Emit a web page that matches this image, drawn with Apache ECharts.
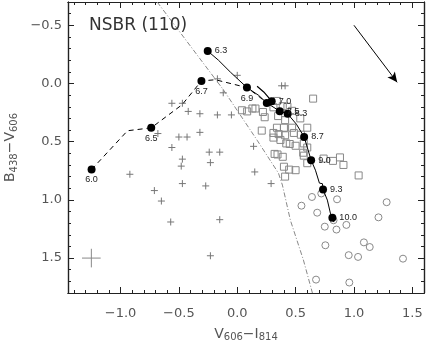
<!DOCTYPE html>
<html>
<head>
<meta charset="utf-8">
<script src="https://cdn.jsdelivr.net/npm/echarts@6/dist/echarts.min.js"></script>
<style>
  html, body { margin: 0; background: #fff; }
  #chart { width: 426px; height: 343px; }
</style>
</head>
<body>
<div id="chart"></div>
<script>
// tick positions
const xMajor = [-1.0, -0.5, 0, 0.5, 1.0, 1.5]
const xMinor = [-1.4, -1.3, -1.2, -1.1, -0.9, -0.8, -0.7, -0.6, -0.4, -0.3, -0.2, -0.1,
  0.1, 0.2, 0.3, 0.4, 0.6, 0.7, 0.8, 0.9, 1.1, 1.2, 1.3, 1.4]
const yMajor = [-0.5, 0, 0.5, 1.0, 1.5]
const yMinor = [-0.6, -0.4, -0.3, -0.2, -0.1, 0.1, 0.2, 0.3, 0.4, 0.6, 0.7, 0.8, 0.9,
  1.1, 1.2, 1.3, 1.4, 1.6, 1.7]

// crosses (+)
const crossX = [0.00, -0.17, -0.12, -0.56, -0.47, -0.42, -0.32, -0.17, -0.05, -0.68, -0.50, -0.43,
  -0.32, -0.56, -0.24, -0.15, 0.14, -0.47, -0.23, -0.48, -0.92, -0.47, -0.27, 0.15, 0.29, -0.71,
  -0.65, -0.57, -0.15, -0.23, 0.38, 0.41]
const crossY = [-0.07, -0.04, 0.08, 0.17, 0.17, 0.24, 0.26, 0.27, 0.27, 0.43, 0.46, 0.46,
  0.42, 0.55, 0.59, 0.59, 0.54, 0.65, 0.68, 0.71, 0.78, 0.86, 0.88, 0.76, 0.86, 0.92,
  1.01, 1.19, 1.17, 1.48, 0.02, 0.02]

// open squares
const squareX = [0.65, 0.34, 0.04, 0.085, 0.13, 0.156, 0.22, 0.235, 0.31, 0.39, 0.43, 0.47, 0.54,
  0.35, 0.41, 0.34, 0.40, 0.47, 0.60, 0.21, 0.31, 0.355, 0.41, 0.485, 0.545, 0.31, 0.37, 0.42,
  0.45, 0.50, 0.57, 0.60, 0.32, 0.345, 0.39, 0.565, 0.57, 0.60, 0.40, 0.445, 0.50, 0.41, 0.74,
  0.82, 0.88, 0.91, 1.04]
const squareY = [0.13, 0.15, 0.23, 0.24, 0.215, 0.215, 0.245, 0.29, 0.205, 0.195, 0.20, 0.235, 0.30,
  0.28, 0.315, 0.38, 0.38, 0.38, 0.38, 0.405, 0.425, 0.435, 0.445, 0.425, 0.44, 0.465, 0.485, 0.515,
  0.52, 0.535, 0.515, 0.55, 0.605, 0.61, 0.63, 0.595, 0.62, 0.685, 0.715, 0.74, 0.745, 0.80, 0.645,
  0.665, 0.635, 0.70, 0.79]

// open circles
const circleX = [0.55, 0.64, 0.72, 0.855, 0.685, 0.825, 0.75, 0.85, 0.935, 1.21, 1.28, 0.755,
  1.085, 1.135, 0.955, 1.035, 1.42, 0.675, 0.96]
const circleY = [1.05, 0.975, 0.945, 0.995, 1.11, 1.175, 1.23, 1.255, 1.215, 1.15, 1.02, 1.39,
  1.365, 1.405, 1.475, 1.49, 1.505, 1.685, 1.71]

// filled age points
const ageX = [-1.248, -0.737, -0.307, -0.253, 0.083, 0.253, 0.295, 0.364, 0.432, 0.573, 0.633, 0.735, 0.815]
const ageY = [0.739, 0.381, -0.022, -0.279, 0.035, 0.167, 0.152, 0.238, 0.261, 0.459, 0.659, 0.910, 1.154]
const ageLabels = ['6.0', '6.5', '6.7', '6.3', '6.9', '', '7.0', '7.5', '8.3', '8.7', '9.0', '9.3', '10.0']

// solid track
const solidX = [-0.253, -0.161, -0.058, 0.083, 0.182, 0.253, 0.364, 0.432, 0.507, 0.573, 0.633,
  0.670, 0.704, 0.730, 0.735, 0.772, 0.798, 0.815, 0.828]
const solidY = [-0.279, -0.200, -0.097, 0.035, 0.101, 0.167, 0.238, 0.261, 0.350, 0.459, 0.659,
  0.745, 0.856, 0.861, 0.910, 1.002, 1.114, 1.154, 1.191]
const loopX = [0.170, 0.227, 0.295]
const loopY = [0.024, 0.073, 0.152]

// dashed track
const dashX = [-1.248, -0.940, -0.737, -0.472, -0.307, -0.187, 0.083, 0.182, 0.253]
const dashY = [0.739, 0.406, 0.381, 0.182, -0.022, -0.032, 0.035, 0.109, 0.167]

// dash-dot line
const dotDashX = [-0.686, -0.116, 0.170, 0.353, 0.387, 0.455, 0.567, 0.644]
const dotDashY = [-0.70, 0.058, 0.487, 0.770, 0.873, 1.174, 1.517, 1.80]

// error bar and reddening arrow
const errCenter = [-1.25, 1.50]
const errSize = [0.08, 0.08]
const arrowFrom = [1.00, -0.50]
const arrowTo = [1.37, -0.01]

const zip = (xs, ys) => xs.map((x, i) => [x, ys[i]])
const minus = v => (v < 0 ? '\u2212' + Math.abs(v).toFixed(1) : v.toFixed(1))

const axisColor = '#222'
const font = 'DejaVu Sans'

function xAxis(pos, ticks, len, withLabels) {
  return {
    type: 'value', position: pos, min: -1.45, max: 1.6,
    axisLine: { show: true, onZero: false, lineStyle: { color: axisColor, width: 1.2 } },
    axisTick: { show: true, inside: true, length: len, customValues: ticks, lineStyle: { color: axisColor } },
    axisLabel: withLabels
      ? { customValues: ticks, formatter: minus, margin: 14, fontSize: 13, color: '#555', fontFamily: font }
      : { show: false },
    splitLine: { show: false }
  }
}
function yAxis(pos, ticks, len, withLabels) {
  return {
    type: 'value', position: pos, min: -0.7, max: 1.8, inverse: true,
    axisLine: { show: true, onZero: false, lineStyle: { color: axisColor, width: 1.2 } },
    axisTick: { show: true, inside: true, length: len, customValues: ticks, lineStyle: { color: axisColor } },
    axisLabel: withLabels
      ? { customValues: ticks, formatter: minus, margin: 6, fontSize: 13, color: '#555', fontFamily: font }
      : { show: false },
    splitLine: { show: false }
  }
}

const sub = { fontSize: 10, lineHeight: 10, padding: [8, 0, 0, 0], verticalAlign: 'bottom', color: '#555', fontFamily: font }
const main = { fontSize: 14, lineHeight: 16, verticalAlign: 'top', color: '#555', fontFamily: font }

const xAxes = [
  xAxis('bottom', xMajor, 6, true),
  xAxis('bottom', xMinor, 3, false),
  xAxis('top', xMajor, 6, false),
  xAxis('top', xMinor, 3, false)
]
xAxes[0].name = '{m|V}{s|606}{m|\u2212I}{s|814}'
xAxes[0].nameLocation = 'middle'
xAxes[0].nameGap = 28
xAxes[0].nameTextStyle = { rich: { m: main, s: sub } }

const yAxes = [
  yAxis('left', yMajor, 6, true),
  yAxis('left', yMinor, 3, false),
  yAxis('right', yMajor, 6, false),
  yAxis('right', yMinor, 3, false)
]
yAxes[0].name = '{m|B}{s|438}{m|\u2212V}{s|606}'
yAxes[0].nameLocation = 'middle'
yAxes[0].nameGap = 46
yAxes[0].nameRotate = 90
yAxes[0].nameTextStyle = { rich: { m: main, s: sub } }

const belowLabels = ['6.0', '6.5', '6.7', '6.9']
const ageData = ageX.map((x, i) => {
  const txt = ageLabels[i]
  const below = belowLabels.includes(txt)
  return {
    value: [x, ageY[i]],
    label: {
      show: txt !== '',
      formatter: txt,
      position: below ? 'bottom' : 'right',
      distance: below ? 2 : 3
    }
  }
})

const chart = echarts.init(document.getElementById('chart'))
chart.setOption({
  animation: false,
  title: {
    text: 'NSBR (110)', left: 84, top: 12,
    textStyle: { fontSize: 17, fontWeight: 'normal', color: '#333', fontFamily: font }
  },
  grid: { left: 68, right: 2, top: 2, bottom: 50, containLabel: false, outerBoundsMode: 'none' },
  xAxis: xAxes,
  yAxis: yAxes,
  series: [
    {
      type: 'scatter', data: zip(crossX, crossY),
      symbol: 'path://M0,5H10M5,0V10', symbolSize: 7,
      itemStyle: { color: 'rgba(0,0,0,0)', borderColor: '#777', borderWidth: 1, opacity: 1 }
    },
    {
      type: 'scatter', data: zip(squareX, squareY),
      symbol: 'rect', symbolSize: 7,
      itemStyle: { color: 'rgba(0,0,0,0)', borderColor: '#888', borderWidth: 1, opacity: 1 }
    },
    {
      type: 'scatter', data: zip(circleX, circleY),
      symbol: 'circle', symbolSize: 7,
      itemStyle: { color: 'rgba(0,0,0,0)', borderColor: '#888', borderWidth: 1, opacity: 1 }
    },
    {
      type: 'line', data: zip(dotDashX, dotDashY), symbol: 'none',
      lineStyle: { color: '#888', width: 1, type: [5, 2, 1, 2] }
    },
    {
      type: 'line', data: zip(dashX, dashY), symbol: 'none',
      lineStyle: { color: '#000', width: 1, type: [5, 4] }
    },
    {
      type: 'line', data: zip(solidX, solidY), symbol: 'none',
      lineStyle: { color: '#000', width: 1 }
    },
    {
      type: 'line', data: zip(loopX, loopY), symbol: 'none',
      lineStyle: { color: '#000', width: 1.2 }
    },
    {
      type: 'line', symbol: 'none',
      data: [[errCenter[0] - errSize[0], errCenter[1]], [errCenter[0] + errSize[0], errCenter[1]]],
      lineStyle: { color: '#888', width: 1 }
    },
    {
      type: 'line', symbol: 'none',
      data: [[errCenter[0], errCenter[1] - errSize[1]], [errCenter[0], errCenter[1] + errSize[1]]],
      lineStyle: { color: '#888', width: 1 },
      markLine: {
        silent: true, symbol: ['none', 'arrow'], symbolSize: [7, 10],
        label: { show: false },
        lineStyle: { color: '#000', width: 1, type: 'solid' },
        data: [[{ coord: arrowFrom }, { coord: arrowTo }]]
      }
    },
    {
      type: 'scatter', data: ageData, symbol: 'circle', symbolSize: 8, z: 5,
      itemStyle: { color: '#000', opacity: 1 },
      label: { fontSize: 9, color: '#222', fontFamily: 'Liberation Sans' }
    }
  ]
})
</script>
</body>
</html>
